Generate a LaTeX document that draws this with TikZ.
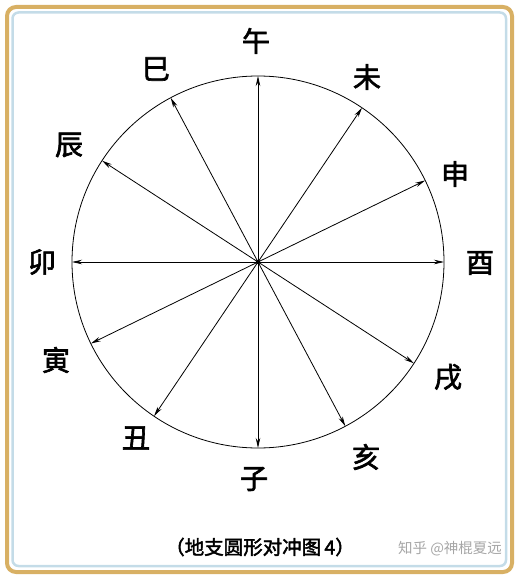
\documentclass[tikz,border=0pt]{standalone}
\usepackage{fontspec}
\newfontfamily\cjk[AutoFakeBold=2.2]{Noto Sans CJK SC}
\usetikzlibrary{arrows.meta}

\definecolor{framegold}{RGB}{216,176,100}
\definecolor{frameblue}{RGB}{196,220,232}

\tikzstyle{branch} = [font=\cjk\bfseries\fontsize{28}{28}\selectfont, inner sep=0pt, text=black]
\tikzstyle{caption} = [font=\cjk\bfseries\fontsize{19.5}{20}\selectfont, inner sep=0pt]
\tikzstyle{watermark} = [font=\cjk\fontsize{14.5}{15}\selectfont, inner sep=0pt, text=gray!70]
\tikzstyle{dial} = [circle, draw=black, line width=0.8pt, minimum size=372pt, inner sep=0pt, outer sep=0pt]
\tikzstyle{arrow} = [line width=0.8pt, -{Stealth[length=10pt,width=4.5pt]}]

\begin{document}
\begin{tikzpicture}[x=1pt, y=-1pt]
\useasboundingbox (0,0) rectangle (520,580);

% Frame
\draw [framegold, line width=4pt, rounded corners=9pt] (7,7) rectangle (512,572);
\draw [frameblue, line width=2.5pt, rounded corners=6pt] (12.5,12.5) rectangle (506,566);

% Define nodes
\node (dial) [dial] at (258,262) {};
\node (wu) [branch] at (256,41) {午};
\node (wei) [branch] at (367,77) {未};
\node (shen) [branch] at (455,174) {申};
\node (you) [branch] at (480,263) {酉};
\node (xu) [branch] at (448,377) {戌};
\node (hai) [branch] at (366,457) {亥};
\node (zi) [branch] at (254,479) {子};
\node (chou) [branch] at (136,438) {丑};
\node (yin) [branch] at (56,360) {寅};
\node (mao) [branch] at (42,262) {卯};
\node (chen) [branch] at (69,145) {辰};
\node (si) [branch] at (156,69) {巳};
\node (title) [caption] at (260,547) {（地支圆形对冲图\,4）};
\node (credit) [watermark] at (450,549) {知乎 @神棍夏远};

% Draw arrows
\fill (dial.center) circle (2.2pt);
\draw [arrow] (dial.center) -- (dial.90);
\draw [arrow] (dial.center) -- (dial.56);
\draw [arrow] (dial.center) -- (dial.26);
\draw [arrow] (dial.center) -- (dial.0);
\draw [arrow] (dial.center) -- (dial.-33);
\draw [arrow] (dial.center) -- (dial.-62);
\draw [arrow] (dial.center) -- (dial.-90);
\draw [arrow] (dial.center) -- (dial.-124);
\draw [arrow] (dial.center) -- (dial.-154);
\draw [arrow] (dial.center) -- (dial.180);
\draw [arrow] (dial.center) -- (dial.147);
\draw [arrow] (dial.center) -- (dial.118);

\end{tikzpicture}
\end{document}
